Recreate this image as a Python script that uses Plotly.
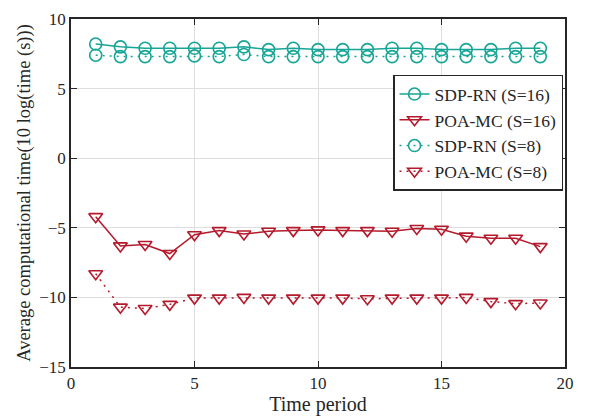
import plotly.graph_objects as go

periods = list(range(1, 20))
sdp_rn_16 = [8.2, 8.0, 7.9, 7.9, 7.9, 7.9, 8.0, 7.8, 7.9, 7.8, 7.8, 7.8, 7.9, 7.9, 7.8, 7.8, 7.8, 7.9, 7.9]
poa_mc_16 = [-4.2, -6.3, -6.2, -6.85, -5.5, -5.2, -5.45, -5.25, -5.2, -5.15, -5.2, -5.2, -5.25, -5.05, -5.1, -5.6, -5.75, -5.75, -6.35]
sdp_rn_8 = [7.4, 7.3, 7.3, 7.3, 7.35, 7.3, 7.45, 7.3, 7.3, 7.3, 7.3, 7.3, 7.3, 7.3, 7.3, 7.3, 7.3, 7.3, 7.3]
poa_mc_8 = [-8.3, -10.7, -10.8, -10.5, -10.05, -10.05, -10.0, -10.05, -10.05, -10.05, -10.05, -10.1, -10.05, -10.05, -10.05, -10.0, -10.3, -10.45, -10.4]

x_ticks = [0, 5, 10, 15, 20]
y_ticks = [-15, -10, -5, 0, 5, 10]

teal = "#17a596"
red = "#b51a2c"
FONT = "Liberation Serif, Times New Roman, serif"

fig = go.Figure()

def add(name, y, color, symbol, dash):
    fig.add_trace(go.Scatter(
        x=periods, y=y, name=name, mode="lines+markers",
        line=dict(color=color, width=1.5, dash=dash),
        marker=dict(symbol=symbol, size=12, color=color,
                    line=dict(color=color, width=1.6)),
    ))

add("SDP-RN (S=16)", sdp_rn_16, teal, "circle-open", "solid")
add("POA-MC (S=16)", poa_mc_16, red, "triangle-down-open", "solid")
add("SDP-RN (S=8)", sdp_rn_8, teal, "circle-open", "2px,5px")
add("POA-MC (S=8)", poa_mc_8, red, "triangle-down-open", "2px,5px")

axis_common = dict(
    showline=True, linecolor="#262626", linewidth=1.5, mirror="ticks",
    ticks="inside", ticklen=6, tickcolor="#262626", tickwidth=1,
    showgrid=True, gridcolor="#dedede", gridwidth=1, zeroline=False,
    tickfont=dict(family=FONT, size=17, color="#262626"),
)

fig.update_layout(
    width=595, height=419,
    margin=dict(l=71, r=30, t=10, b=52),
    paper_bgcolor="white", plot_bgcolor="white",
    font=dict(family=FONT, color="#262626"),
    xaxis=dict(range=[0, 20], tickvals=x_ticks,
               title=dict(text="Time period", font=dict(family=FONT, size=20), standoff=2),
               **axis_common),
    yaxis=dict(range=[-15, 10], tickvals=y_ticks,
               title=dict(text="Average computational time(10 log(time (s)))", font=dict(family=FONT, size=18.5), standoff=4),
               **axis_common),
    legend=dict(x=0.996, y=0.84, xanchor="right", yanchor="top",
                bordercolor="#262626", borderwidth=1.5, bgcolor="white",
                font=dict(family=FONT, size=17.5, color="#262626"),
                tracegroupgap=0, itemwidth=30),
    showlegend=True,
)

fig.write_html("out.html", config={"displayModeBar": False},
               post_script="document.body.style.margin='0px';")
